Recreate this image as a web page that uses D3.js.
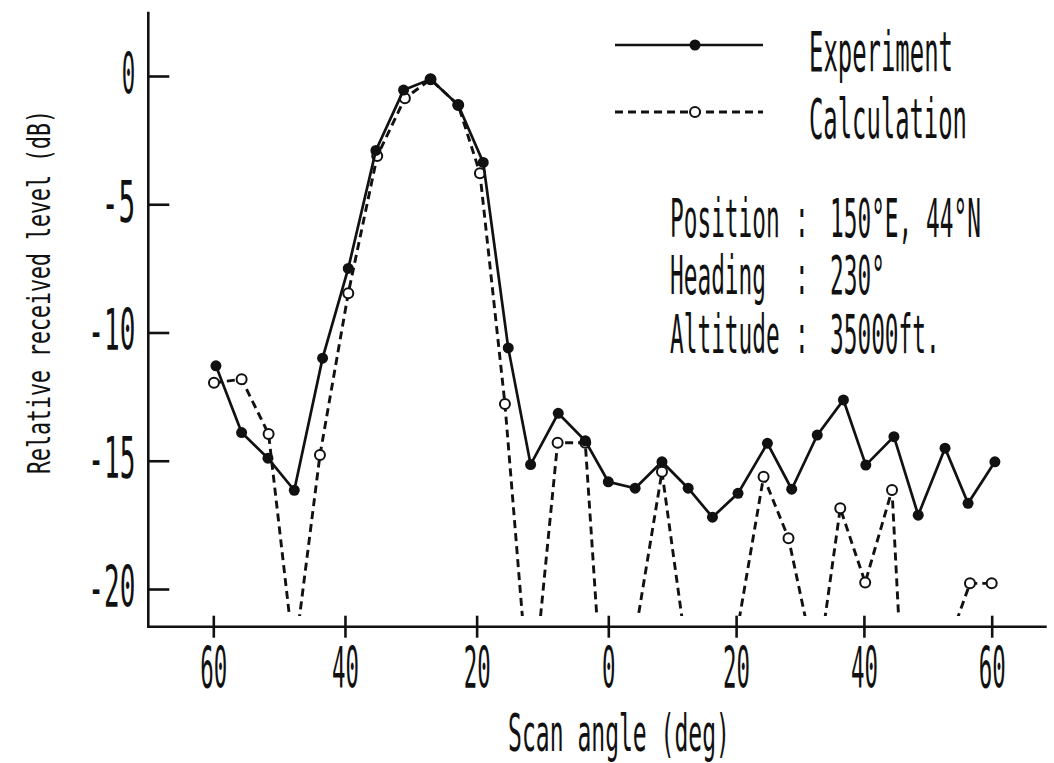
<!DOCTYPE html>
<html><head><meta charset="utf-8">
<script src="https://cdn.jsdelivr.net/npm/d3@7"></script>
<style>
html,body{margin:0;padding:0;background:#fff;}
svg{display:block;}
text{font-family:"DejaVu Sans Mono", monospace; fill:#111;}
</style>
</head><body>
<svg id="chart" width="1054" height="763"></svg>
<script>
// ---- data ----
const expAngles  = [-59.6,-55.7,-51.7,-47.7,-43.4,-39.5,-35.3,-31.1,-27.0,-22.8,-19.0,-15.2,-11.8,-7.6,-3.5,0.0,4.2,8.4,12.5,16.3,20.3,24.9,28.7,32.7,36.8,40.3,44.7,48.5,52.7,56.3,60.5];
const expLevels  = [-11.3,-13.9,-14.9,-16.15,-11.0,-7.5,-2.9,-0.55,-0.13,-1.13,-3.37,-10.6,-15.15,-13.15,-14.22,-15.82,-16.07,-15.04,-16.07,-17.2,-16.27,-14.32,-16.11,-14.0,-12.63,-15.17,-14.06,-17.12,-14.51,-16.66,-15.04];
const calcAngles = [-59.9,-55.7,-51.6,-47.7,-43.8,-39.5,-35.1,-30.9,-27.0,-22.8,-19.5,-15.7,-11.8,-7.7,-3.5,0.0,4.2,8.4,12.5,16.3,20.3,24.3,28.2,32.7,36.3,40.2,44.4,48.5,52.7,56.6,60.0];
const calcLevels = [-11.96,-11.82,-13.96,-22.7,-14.78,-8.47,-3.12,-0.87,-0.13,-1.13,-3.79,-12.79,-25.0,-14.3,-14.3,-27.8,-21.8,-15.43,-22.9,-26.0,-21.45,-15.62,-18.02,-23.3,-16.85,-19.75,-16.14,-35.8,-22.5,-19.78,-19.78];
const xTickValues = [-60,-40,-20,0,20,40,60];
const yTickValues = [0,-5,-10,-15,-20];
const seriesNames = ["Experiment","Calculation"];
const infoLabels  = ["Position","Heading","Altitude"];
const infoValues  = ["150°E, 44°N","230°","35000ft."];
const xTitle = "Scan angle (deg)";
const yTitle = "Relative received level (dB)";
const calcFloor = -21.05; // calculation curve drawn down to this level only

// ---- layout ----
const svg = d3.select("#chart");
const x = d3.scaleLinear().domain([-60,0,60]).range([213.3,608.3,991.7]);
const y = d3.scaleLinear().domain([0,-20]).range([76,589]);
const axisYpos = 626.7, axisXpos = 148.3, axisTop = 11.7, axisRight = 1046.7;
const ink = "#111";

// squeeze a text element horizontally to a target width (plotter-style narrow glyphs)
function squeeze(node, targetW, prefix){
  const w = node.getComputedTextLength();
  d3.select(node).attr("transform", `${prefix||""} scale(${targetW / w},1)`);
}

// axis lines (L shape)
svg.append("path")
  .attr("d", `M${axisXpos},${axisTop}V${axisYpos}H${axisRight}`)
  .attr("fill","none").attr("stroke",ink).attr("stroke-width",2.6);

// x axis via d3
const xFmt = d => String(Math.abs(d));
const gx = svg.append("g").attr("transform",`translate(0,${axisYpos})`)
  .call(d3.axisBottom(x).tickValues(xTickValues).tickSize(11).tickFormat(xFmt));
gx.select(".domain").remove();
gx.selectAll(".tick line").attr("y1",-11).attr("y2",11).attr("stroke",ink).attr("stroke-width",2.6);
gx.selectAll(".tick text")
  .attr("y",0).attr("x",0).attr("dy",null).attr("text-anchor","middle")
  .style("font-family",'"DejaVu Sans Mono", monospace')
  .style("font-size","57px").attr("fill",ink)
  .each(function(d){ squeeze(this, xFmt(d).length*13.5, "translate(0,61)"); });

// y axis via d3
const yFmt = d => (d<0 ? "-" : "") + Math.abs(d);
const gy = svg.append("g").attr("transform",`translate(${axisXpos},0)`)
  .call(d3.axisLeft(y).tickValues(yTickValues).tickSize(-21).tickFormat(yFmt));
gy.select(".domain").remove();
gy.selectAll(".tick line").attr("stroke",ink).attr("stroke-width",2.6);
gy.selectAll(".tick text")
  .attr("x",0).attr("y",0).attr("dy",null).attr("text-anchor","end")
  .style("font-family",'"DejaVu Sans Mono", monospace')
  .style("font-size","57px").attr("fill",ink)
  .each(function(d){
    const s = yFmt(d);
    squeeze(this, (s.startsWith("-")?20:0) + s.replace("-","").length*13.5, "translate(-13,17)");
  });

// axis titles
svg.append("text").text(xTitle).attr("text-anchor","middle")
  .style("font-size","51px")
  .each(function(){ squeeze(this, 222, `translate(${(508+730)/2},751)`); });
svg.append("text").text(yTitle).attr("text-anchor","middle")
  .style("font-size","32px")
  .each(function(){ squeeze(this, 364, "translate(50,292) rotate(-90)"); });

// clip for calculation curve
svg.append("clipPath").attr("id","calcClip").append("rect")
  .attr("x",0).attr("y",0).attr("width",1054).attr("height",y(calcFloor));

const calcData = calcAngles.map((a,i)=>({a, v:calcLevels[i]}));
const expData  = expAngles.map((a,i)=>({a, v:expLevels[i]}));
const line = d3.line().x(d=>x(d.a)).y(d=>y(d.v));

svg.append("path").datum(calcData).attr("d",line)
  .attr("clip-path","url(#calcClip)")
  .attr("fill","none").attr("stroke",ink).attr("stroke-width",2.9).attr("stroke-dasharray","8,5");
svg.append("g").selectAll("circle").data(calcData.filter(d=>d.v>=calcFloor)).join("circle")
  .attr("cx",d=>x(d.a)).attr("cy",d=>y(d.v)).attr("r",5)
  .attr("fill","#fff").attr("stroke",ink).attr("stroke-width",2);

svg.append("path").datum(expData).attr("d",line)
  .attr("fill","none").attr("stroke",ink).attr("stroke-width",2.7);
svg.append("g").selectAll("circle").data(expData).join("circle")
  .attr("cx",d=>x(d.a)).attr("cy",d=>y(d.v)).attr("r",5.5).attr("fill",ink);

// legend
const legY = [45,112];
const legW = [144,158];
const leg = svg.append("g");
seriesNames.forEach((name,i)=>{
  leg.append("line").attr("x1",615).attr("x2",763).attr("y1",legY[i]).attr("y2",legY[i])
    .attr("stroke",ink).attr("stroke-width",i===0?2.7:2.9).attr("stroke-dasharray", i===0?null:"8,5");
  leg.append("circle").attr("cx",695).attr("cy",legY[i]).attr("r",i===0?5.5:5)
    .attr("fill",i===0?ink:"#fff").attr("stroke",ink).attr("stroke-width",i===0?0:2);
  leg.append("text").text(name).style("font-size","55px")
    .each(function(){ squeeze(this, legW[i], `translate(809,${legY[i]+26})`); });
});

// info block: one text element, rows as tspans, squeezed as a whole
const infoY = [237,294,353];
const sx = 0.43;
const info = svg.append("text").style("font-size","53px")
  .attr("transform",`scale(${sx},1)`);
infoLabels.forEach((lab,i)=>{
  info.append("tspan").attr("x",670/sx).attr("y",infoY[i]).text(lab);
  info.append("tspan").attr("x",795/sx).attr("y",infoY[i]).text(":");
  info.append("tspan").attr("x",830/sx).attr("y",infoY[i]).text(infoValues[i]);
});
</script>
</body></html>
